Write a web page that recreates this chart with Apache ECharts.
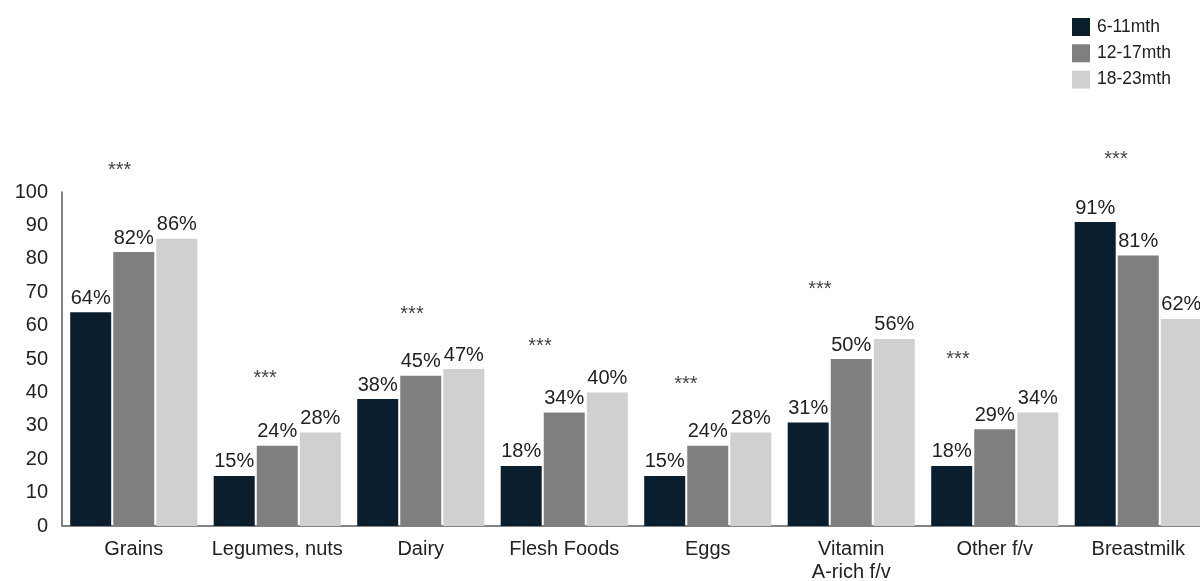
<!DOCTYPE html>
<html>
<head>
<meta charset="utf-8">
<script src="https://cdn.jsdelivr.net/npm/echarts@6/dist/echarts.min.js"></script>
<style>
html,body{margin:0;padding:0;background:#fff;}
#main{width:1200px;height:581px;}
</style>
</head>
<body>
<div id="main"></div>
<script>
const categories = ['Grains', 'Legumes, nuts', 'Dairy', 'Flesh Foods', 'Eggs', 'Vitamin\nA-rich f/v', 'Other f/v', 'Breastmilk'];
const seriesNames = ['6-11mth', '12-17mth', '18-23mth'];
const age6to11 = [64, 15, 38, 18, 15, 31, 18, 91];
const age12to17 = [82, 24, 45, 34, 24, 50, 29, 81];
const age18to23 = [86, 28, 47, 40, 28, 56, 34, 62];
const yTicks = [0, 10, 20, 30, 40, 50, 60, 70, 80, 90, 100];
// significance markers: position along categories (0..8) and height in axis units
const sigX = [0.402, 1.415, 2.439, 3.331, 4.348, 5.282, 6.244, 7.345];
const sigY = [107.5, 45.5, 64.5, 54.9, 43.7, 71.9, 51.2, 110.8];
const sigText = '***';

const colors = ['#0b1e2d', '#7f7f7f', '#d0d0d0'];
const font = 'Liberation Sans, Arial, sans-serif';

const chart = echarts.init(document.getElementById('main'), null, {renderer: 'canvas'});

function barSeries(name, data, color) {
  return {
    name: name,
    type: 'bar',
    data: data,
    barWidth: 41,
    barGap: '5%',
    itemStyle: {color: color},
    label: {
      show: true,
      position: 'top',
      distance: 4,
      formatter: '{c}%',
      color: '#222',
      fontSize: 20,
      fontFamily: font
    },
    emphasis: {disabled: true},
    animation: false
  };
}

chart.setOption({
  backgroundColor: '#fff',
  animation: false,
  legend: {
    orient: 'vertical',
    left: 1072,
    top: 18,
    padding: 0,
    itemWidth: 18,
    itemHeight: 18,
    itemGap: 8.3,
    icon: 'rect',
    data: seriesNames,
    textStyle: {fontSize: 17.5, color: '#222', fontFamily: font, padding: [0, 0, 0, 2]}
  },
  grid: {left: 62, top: 192, width: 1148, height: 334, containLabel: false, outerBoundsMode: 'none'},
  xAxis: [{
    type: 'category',
    data: categories,
    axisLine: {show: true, lineStyle: {color: '#595959', width: 1.5}},
    axisTick: {show: false},
    axisLabel: {
      fontSize: 20, color: '#222', fontFamily: font, margin: 12, lineHeight: 23,
      interval: 0
    }
  }, {
    type: 'value',
    min: 0,
    max: 8,
    show: false
  }],
  yAxis: {
    type: 'value',
    min: 0,
    max: 100,
    interval: 10,
    axisLine: {show: true, lineStyle: {color: '#595959', width: 1.5}},
    axisTick: {show: false},
    splitLine: {show: false},
    axisLabel: {
      fontSize: 20, color: '#222', fontFamily: font, margin: 14,
      formatter: function (v) { return yTicks.indexOf(v) >= 0 ? String(v) : ''; }
    }
  },
  series: [
    barSeries(seriesNames[0], age6to11, colors[0]),
    barSeries(seriesNames[1], age12to17, colors[1]),
    barSeries(seriesNames[2], age18to23, colors[2]),
    {
      type: 'scatter',
      xAxisIndex: 1,
      yAxisIndex: 0,
      clip: false,
      symbolSize: 1,
      itemStyle: {color: 'rgba(0,0,0,0)'},
      data: sigX.map((x, i) => [x, sigY[i]]),
      label: {
        show: true,
        position: 'inside',
        formatter: sigText,
        fontSize: 20,
        color: '#111',
        fontFamily: font,
        offset: [0, 4]
      },
      emphasis: {disabled: true},
      silent: true,
      animation: false
    }
  ]
});
</script>
</body>
</html>
